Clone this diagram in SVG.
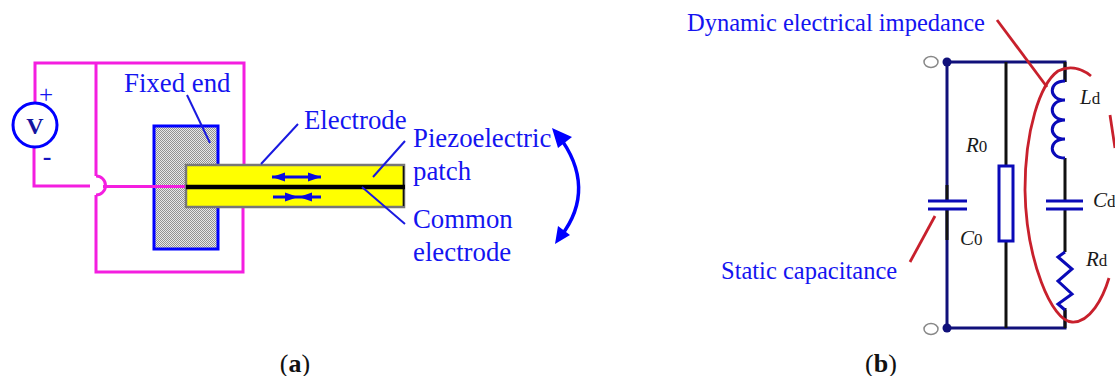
<svg xmlns="http://www.w3.org/2000/svg" width="1115" height="376" viewBox="0 0 1115 376">
<style>
text{font-family:"Liberation Serif","Times New Roman",serif}
.l{fill:#1414f0;font-size:26.8px}
.m{fill:#1414f0;font-size:24.5px}
.k{fill:#1a1a1a;font-size:21px}
.k tspan{font-style:normal;font-size:17px}
.w{fill:none;stroke:#f41ee0;stroke-width:3}
.t{fill:none;stroke:#1a1ae0;stroke-width:2}
.n{fill:none;stroke:#10107a;stroke-width:3}
.s{fill:none;stroke:#111;stroke-width:3}
.c{fill:none;stroke:#0a0ab8;stroke-width:3}
.r{fill:none;stroke:#c8202c;stroke-width:2.800}
</style>
<defs>
<pattern id="h" width="2" height="2" patternUnits="userSpaceOnUse"><rect width="2" height="2" fill="#e8e8e8"/><rect width="1" height="1" fill="#929292"/><rect x="1" y="1" width="1" height="1" fill="#929292"/></pattern>
</defs>
<g id="connectors">
<path class="w" d="M35 103V63H244V164M34 147V186H90"/>
<path class="w" d="M96 176V63M96 195V272H243V207"/>
<path class="w" d="M96 176A9.500 9.500 0 0 1 96 195"/>
<path class="n" d="M947 62H1065V82M947 62V200M947 210V328H1065V310"/>
<path class="s" d="M1006 62V166M1006 241V328M1065 62V82M1065 158V201M1065 209V252"/>
<path class="s" d="M947 185V200M947 210V240M1065 308V328"/>
<path class="r" d="M997 20L1047 87"/>
<path class="r" d="M935 216L910 262"/>
<path class="r" d="M1091 76C1080 67 1068 66 1058 71C1040 84 1025 130 1025 190C1026 260 1052 322 1072 322C1090 323 1103 298 1109 278"/>
<path class="r" d="M1110 115L1115 148"/>
</g>
<g id="voltage-source">
<circle cx="35" cy="125" r="22" fill="#fff" stroke="#0000ff" stroke-width="3"/>
<text x="35" y="134" text-anchor="middle" font-size="24" font-weight="bold" fill="#1414a0">V</text>
<text x="46" y="103" text-anchor="middle" font-size="25" fill="#1414f0">+</text>
<text x="47" y="165" text-anchor="middle" font-size="26" font-weight="bold" fill="#1414c0">-</text>
</g>
<g id="fixed-end">
<rect x="154" y="126" width="64" height="123" fill="url(#h)" stroke="#0000ff" stroke-width="3"/>
<text class="l" x="124" y="92">Fixed end</text>
</g>
<g id="wire-in"><path class="w" d="M103 186.500H186"/></g>
<g id="patch">
<rect x="186" y="165" width="218" height="42" fill="#ffff00" stroke="#777" stroke-width="2.500"/>
<path d="M403.500 166V206" stroke="#111" stroke-width="1.500"/>
<path d="M186 187H405" stroke="#000" stroke-width="4.500"/>
<path d="M272 177H321" stroke="#0a0ae0" stroke-width="3"/>
<path d="M272 177L285 172.500V181.500ZM321 177L308 172.500V181.500Z" fill="#0a0ae0"/>
<path d="M273 197H321" stroke="#0a0ae0" stroke-width="3"/>
<path d="M298 197L285 192.500V201.500ZM299 197L312 192.500V201.500Z" fill="#0a0ae0"/>
</g>
<g id="leaders">
<path class="t" d="M187 95L210 143"/>
<path class="t" d="M298 124L261 164M405 141L373 177M405 224L362 187"/>
</g>
<g id="motion-arrow">
<path d="M558 135C585 170 585 205 561 236" fill="none" stroke="#0000ff" stroke-width="3.500"/>
<path d="M552 128L572 137L558 148ZM555 244L558 226L570 235Z" fill="#0000ff"/>
</g>
<g id="labels-a">
<text class="l" x="304" y="128.500">Electrode</text>
<text class="l" x="413" y="146.500">Piezoelectric</text>
<text class="l" x="413" y="179.500">patch</text>
<text class="l" x="413" y="228">Common</text>
<text class="l" x="413" y="260.500">electrode</text>
<text x="295" y="372" text-anchor="middle" font-size="26" fill="#111">(<tspan font-weight="bold">a</tspan>)</text>
</g>
<g id="terminal-top"><ellipse cx="931" cy="62" rx="7" ry="5.500" fill="#fff" stroke="#888" stroke-width="1.500"/><circle cx="947" cy="62" r="4.500" fill="#10107a"/></g>
<g id="terminal-bottom"><ellipse cx="931" cy="329" rx="7" ry="5.500" fill="#fff" stroke="#888" stroke-width="1.500"/><circle cx="947" cy="328" r="4.500" fill="#10107a"/></g>
<g id="C0"><path class="c" d="M928 201H967M928 209H967"/><text class="k" x="960" y="245" font-style="italic">C<tspan>0</tspan></text></g>
<g id="R0"><rect x="999" y="166" width="14" height="75" fill="#fff" stroke="#0a0ab8" stroke-width="3"/><text class="k" x="966" y="152" font-style="italic">R<tspan>0</tspan></text></g>
<g id="Ld"><path class="c" d="M1065 81C1048 81 1048 100 1065 100C1048 100 1048 120 1065 120C1048 120 1048 139 1065 139C1048 139 1048 158 1065 158"/><text class="k" x="1080" y="104" font-style="italic">L<tspan>d</tspan></text></g>
<g id="Cd"><path class="c" d="M1046 201H1083M1046 209H1083"/><text class="k" x="1093" y="207" font-style="italic">C<tspan>d</tspan></text></g>
<g id="Rd"><path class="c" d="M1065 252L1058 257L1072 269L1058 281L1072 294L1058 304L1065 310"/><text class="k" x="1086" y="266" font-style="italic">R<tspan>d</tspan></text></g>
<g id="labels-b">
<text class="m" x="687" y="31">Dynamic electrical impedance</text>
<text class="m" x="721" y="279">Static capacitance</text>
<text x="881" y="372" text-anchor="middle" font-size="26" fill="#111">(<tspan font-weight="bold">b</tspan>)</text>
</g>
</svg>
